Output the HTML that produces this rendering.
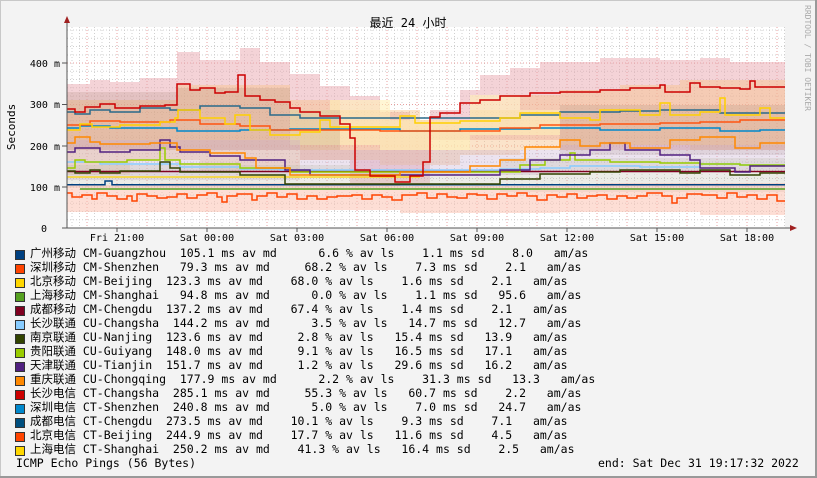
<!DOCTYPE html>
<html><head><meta charset="utf-8"><style>
body{margin:0;background:#f3f3f3;}
.w{position:relative;width:817px;height:478px;overflow:hidden;background:#f3f3f3;}
.lg{position:absolute;left:30px;font:11.5px "DejaVu Sans Mono","Liberation Mono","Noto Sans CJK SC",monospace;white-space:pre;color:#000;line-height:14px;}
.sw{position:absolute;left:15px;width:8px;height:8px;border:1px solid #333;}
</style></head><body><div class="w">
<svg width="817" height="478" style="position:absolute;left:0;top:0" xmlns="http://www.w3.org/2000/svg">
<rect x="0.5" y="0.5" width="816" height="477" fill="#f3f3f3" stroke="#c8c8c8"/>
<rect x="815" y="0" width="2" height="478" fill="#999"/><rect x="0" y="476" width="817" height="2" fill="#999"/>
<rect x="67" y="27" width="718" height="201" fill="#fff"/>
<g stroke="#d0d0d0" stroke-dasharray="1,2" stroke-width="1">
<path d="M67 219.75H785M67 211.5H785M67 203.25H785M67 195H785M67 178.5H785M67 170.25H785M67 162H785M67 153.75H785M67 137.25H785M67 129H785M67 120.75H785M67 112.5H785M67 96H785M67 87.75H785M67 79.5H785M67 71.25H785M67 55H785M67 46.5H785M67 38.25H785M67 30H785"/>
<path d="M72 27V228M79.5 27V228M94.5 27V228M102 27V228M109.5 27V228M124.5 27V228M132 27V228M139.5 27V228M154.5 27V228M162 27V228M169.5 27V228M184.5 27V228M192 27V228M199.5 27V228M214.5 27V228M222 27V228M229.5 27V228M244.5 27V228M252 27V228M259.5 27V228M274.5 27V228M282 27V228M289.5 27V228M304.5 27V228M312 27V228M319.5 27V228M334.5 27V228M342 27V228M349.5 27V228M364.5 27V228M372 27V228M379.5 27V228M394.5 27V228M402 27V228M409.5 27V228M424.5 27V228M432 27V228M439.5 27V228M454.5 27V228M462 27V228M469.5 27V228M484.5 27V228M492 27V228M499.5 27V228M514.5 27V228M522 27V228M529.5 27V228M544.5 27V228M552 27V228M559.5 27V228M574.5 27V228M582 27V228M589.5 27V228M604.5 27V228M612 27V228M619.5 27V228M634.5 27V228M642 27V228M649.5 27V228M664.5 27V228M672 27V228M679.5 27V228M694.5 27V228M702 27V228M709.5 27V228M724.5 27V228M732 27V228M739.5 27V228M754.5 27V228M762 27V228M769.5 27V228M784.5 27V228"/>
</g>
<g stroke="#e8a0a0" stroke-dasharray="1,2" stroke-width="1">
<path d="M67 187H785M67 146H785M67 104.5H785M67 63H785"/>
<path d="M87 27V228M117 27V228M147 27V228M177 27V228M207 27V228M237 27V228M267 27V228M297 27V228M327 27V228M357 27V228M387 27V228M417 27V228M447 27V228M477 27V228M507 27V228M537 27V228M567 27V228M597 27V228M627 27V228M657 27V228M687 27V228M717 27V228M747 27V228M777 27V228"/>
</g>
<!-- smoke -->
<g>
<path fill="#e9a8b0" fill-opacity="0.5" d="M67 84H90V80H110V82H140V78H177V52H200V60H240V48H260V62H290V74H320V86H350V96H380V112H410V120H430V110H460V90H480V75H510V68H540V62H600V58H660V60H700V58H730V62H785V150H560V140H430V185H350V160H300V150H200V150H67Z"/>
<path fill="#f7c08a" fill-opacity="0.45" d="M67 100H177V85H290V100H340V110H420V120H470V110H520V95H560V90H620V85H680V80H785V150H690V145H600V150H520V155H460V165H380V160H300V170H200V160H130V175H67Z"/>
<path fill="#fff0b8" fill-opacity="0.6" d="M290 110H330V100H390V120H470V95H520V110H560V135H470V150H380V145H290Z"/>
<path fill="#a08070" fill-opacity="0.2" d="M67 92H177V88H290V110H340V150H67ZM560 105H785V155H560Z"/>
<path fill="#c8b0d0" fill-opacity="0.35" d="M67 140H300V150H560V145H785V170H560V175H300V180H67Z"/>
<path fill="#c0c0b0" fill-opacity="0.3" d="M67 165H350V172H500V158H785V192H500V188H67Z"/>
<path fill="#fcc2b2" fill-opacity="0.55" d="M67 185H160V183H400V186H600V183H785V215H700V212H560V213H400V210H250V212H67Z"/>
</g>
<g fill="none" stroke-width="1.5">
<path stroke="#55a020" d="M80 189H785"/>
<path stroke="#004080" d="M67 184.7H105V181H112V184.7H785"/>
<path stroke="#ffd700" stroke-width="1.2" d="M67 177H420"/>
<path stroke="#800020" d="M67 171.5H785"/>
<path stroke="#ff4400" d="M67 193H72V197H82V195H92V199H97V193H107V196H117V199H127V196H132V201H137V194H147V196H157V198H167V197H177V194H187V198H197V195H207V193H217V197H222V202H227V196H237V194H252V200H257V196H267V193H277V197H287V194H297V199H307V196H317V199H327V197H337V196H352V195H362V199H372V195H382V197H392V200H402V195H417V193H427V198H437V194H447V197H457V198H467V194H477V195H487V199H497V194H507V196H517V193H527V196H537V200H547V195H557V197H567V194H577V198H587V196H597V195H607V199H617V196H627V198H637V196H647V193H662V196H672V203H677V198H687V194H702V195H717V198H727V193H737V197H747V195H757V199H767V195H777V201H785"/>
<path stroke="#88ccff" d="M67 162H100V164H180V167H240V169H280V170H500V169H540V168H570V166H640V167H700V164H740V165H785"/>
<path stroke="#334400" d="M67 171H75V173H90V170H100V173H120V171H160V162H170V168H180V172H240V175H285V184H500V179H540V174H590V172H620V170H680V173H700V170H730V175H760V173H785"/>
<path stroke="#99cc00" d="M67 168H75V160H85V162H127V160H160V148H165V160H180V164H240V168H290V172H520V165H545V160H570V153H575V160H610V162H660V163H700V164H740V165H785"/>
<path stroke="#502080" d="M67 152H75V148H100V152H130V150H160V140H170V147H180V152H210V156H240V160H285V170H310V175H500V170H530V160H560V155H590V150H610V143H625V150H660V155H690V160H700V168H735V172H750V166H785"/>
<path stroke="#ff8800" d="M67 143H75V137H90V142H100V144H150V143H177V150H210V153H245V158H256V168H290V175H400V172H470V166H500V160H525V147H560V140H580V146H600V143H630V148H670V140H700V137H735V148H760V143H785"/>
<path stroke="#0088cc" d="M67 128H80V126H110V128H177V131H240V130H290V129H400V131H460V129H530V128H600V130H660V128H720V131H760V130H785"/>
<path stroke="#2a6a8a" d="M67 112H75V114H90V110H110V112H140V108H170V110H200V106H240V108H270V115H300V118H520V115H560V112H620V111H660V110H720V113H785"/>
<path stroke="#ff5511" d="M67 125H90V121H120V122H170V120H200V124H240V126H270V130H380V131H500V128H540V125H600V124H660V123H700V122H740V120H785"/>
<path stroke="#ffd000" d="M67 130H80V124H92V127H120V125H160V122H175V118H178V110H200V118H225V124H235V115H250V130H270V135H300V132H320V120H330V127H400V116H415V123H460V121H500V118H520V113H560V118H590V120H600V110H640V115H660V103H670V115H700V112H720V98H725V115H760V108H770V118H785"/>
<path stroke="#cc0000" d="M67 109H75V112H85V107H100V104H115V108H140V106H165V105H177V84H190V90H200V88H215V93H225V92H238V75H245V96H260V100H275V102H290V108H300V112H320V116H340V124H350V138H355V170H370V176H395V182H410V176H423V162H430V117H440V113H460V103H480V100H500V96H530V93H560V92H600V90H630V88H660V85H665V92H690V83H700V87H720V88H740V89H750V81H755V87H785"/>
</g>
<!-- axes -->
<g stroke="#555" stroke-width="1">
<path d="M67 228V22M62 228H792"/>
<path d="M62 187H67M62 146H67M62 104.5H67M62 63H67"/>
<path d="M117 228V232M207 228V232M297 228V232M387 228V232M477 228V232M567 228V232M657 228V232M747 228V232"/>
</g>
<path d="M64 23L67 16L70 23Z" fill="#a02020"/>
<path d="M790 225L797 228L790 231Z" fill="#a02020"/>
<g font-family="DejaVu Sans Mono, Liberation Mono, monospace" font-size="10" fill="#000">
<text x="60" y="67" text-anchor="end">400 m</text>
<text x="60" y="108" text-anchor="end">300 m</text>
<text x="60" y="150" text-anchor="end">200 m</text>
<text x="60" y="191" text-anchor="end">100 m</text>
<text x="47" y="232" text-anchor="end">0</text>
<text x="117" y="241" text-anchor="middle">Fri 21:00</text>
<text x="207" y="241" text-anchor="middle">Sat 00:00</text>
<text x="297" y="241" text-anchor="middle">Sat 03:00</text>
<text x="387" y="241" text-anchor="middle">Sat 06:00</text>
<text x="477" y="241" text-anchor="middle">Sat 09:00</text>
<text x="567" y="241" text-anchor="middle">Sat 12:00</text>
<text x="657" y="241" text-anchor="middle">Sat 15:00</text>
<text x="747" y="241" text-anchor="middle">Sat 18:00</text>
<text transform="translate(15,127) rotate(-90)" text-anchor="middle" font-size="11">Seconds</text>
<text transform="translate(805,5) rotate(90)" font-size="8" fill="#aaa">RRDTOOL / TOBI OETIKER</text>
</g>
<text x="408" y="27" text-anchor="middle" font-family="DejaVu Sans Mono, Noto Sans CJK SC, monospace" font-size="12">最近 24 小时</text>
</svg>
<div class="sw" style="top:250px;background:#004080"></div>
<div class="sw" style="top:264px;background:#ff4400"></div>
<div class="sw" style="top:278px;background:#ffd700"></div>
<div class="sw" style="top:292px;background:#55a020"></div>
<div class="sw" style="top:306px;background:#800020"></div>
<div class="sw" style="top:320px;background:#88ccff"></div>
<div class="sw" style="top:334px;background:#334400"></div>
<div class="sw" style="top:348px;background:#99cc00"></div>
<div class="sw" style="top:362px;background:#502080"></div>
<div class="sw" style="top:376px;background:#ff8800"></div>
<div class="sw" style="top:390px;background:#cc0000"></div>
<div class="sw" style="top:404px;background:#0088cc"></div>
<div class="sw" style="top:418px;background:#004f7f"></div>
<div class="sw" style="top:432px;background:#ff4400"></div>
<div class="sw" style="top:446px;background:#ffd700"></div>
<div class="lg" style="top:246px">广州移动 CM-Guangzhou  105.1 ms av md      6.6 % av ls    1.1 ms sd    8.0   am/as
深圳移动 CM-Shenzhen   79.3 ms av md     68.2 % av ls    7.3 ms sd    2.1   am/as
北京移动 CM-Beijing  123.3 ms av md    68.0 % av ls    1.6 ms sd    2.1   am/as
上海移动 CM-Shanghai   94.8 ms av md      0.0 % av ls    1.1 ms sd   95.6   am/as
成都移动 CM-Chengdu  137.2 ms av md    67.4 % av ls    1.4 ms sd    2.1   am/as
长沙联通 CU-Changsha  144.2 ms av md      3.5 % av ls   14.7 ms sd   12.7   am/as
南京联通 CU-Nanjing  123.6 ms av md     2.8 % av ls   15.4 ms sd   13.9   am/as
贵阳联通 CU-Guiyang  148.0 ms av md     9.1 % av ls   16.5 ms sd   17.1   am/as
天津联通 CU-Tianjin  151.7 ms av md     1.2 % av ls   29.6 ms sd   16.2   am/as
重庆联通 CU-Chongqing  177.9 ms av md      2.2 % av ls    31.3 ms sd   13.3   am/as
长沙电信 CT-Changsha  285.1 ms av md     55.3 % av ls   60.7 ms sd    2.2   am/as
深圳电信 CT-Shenzhen  240.8 ms av md      5.0 % av ls    7.0 ms sd   24.7   am/as
成都电信 CT-Chengdu  273.5 ms av md    10.1 % av ls    9.3 ms sd    7.1   am/as
北京电信 CT-Beijing  244.9 ms av md    17.7 % av ls   11.6 ms sd    4.5   am/as
上海电信 CT-Shanghai  250.2 ms av md    41.3 % av ls   16.4 ms sd    2.5   am/as</div>
<div class="lg" style="top:456px;left:16px">ICMP Echo Pings (56 Bytes)</div>
<div class="lg" style="top:456px;left:598px">end: Sat Dec 31 19:17:32 2022</div>
</div></body></html>
